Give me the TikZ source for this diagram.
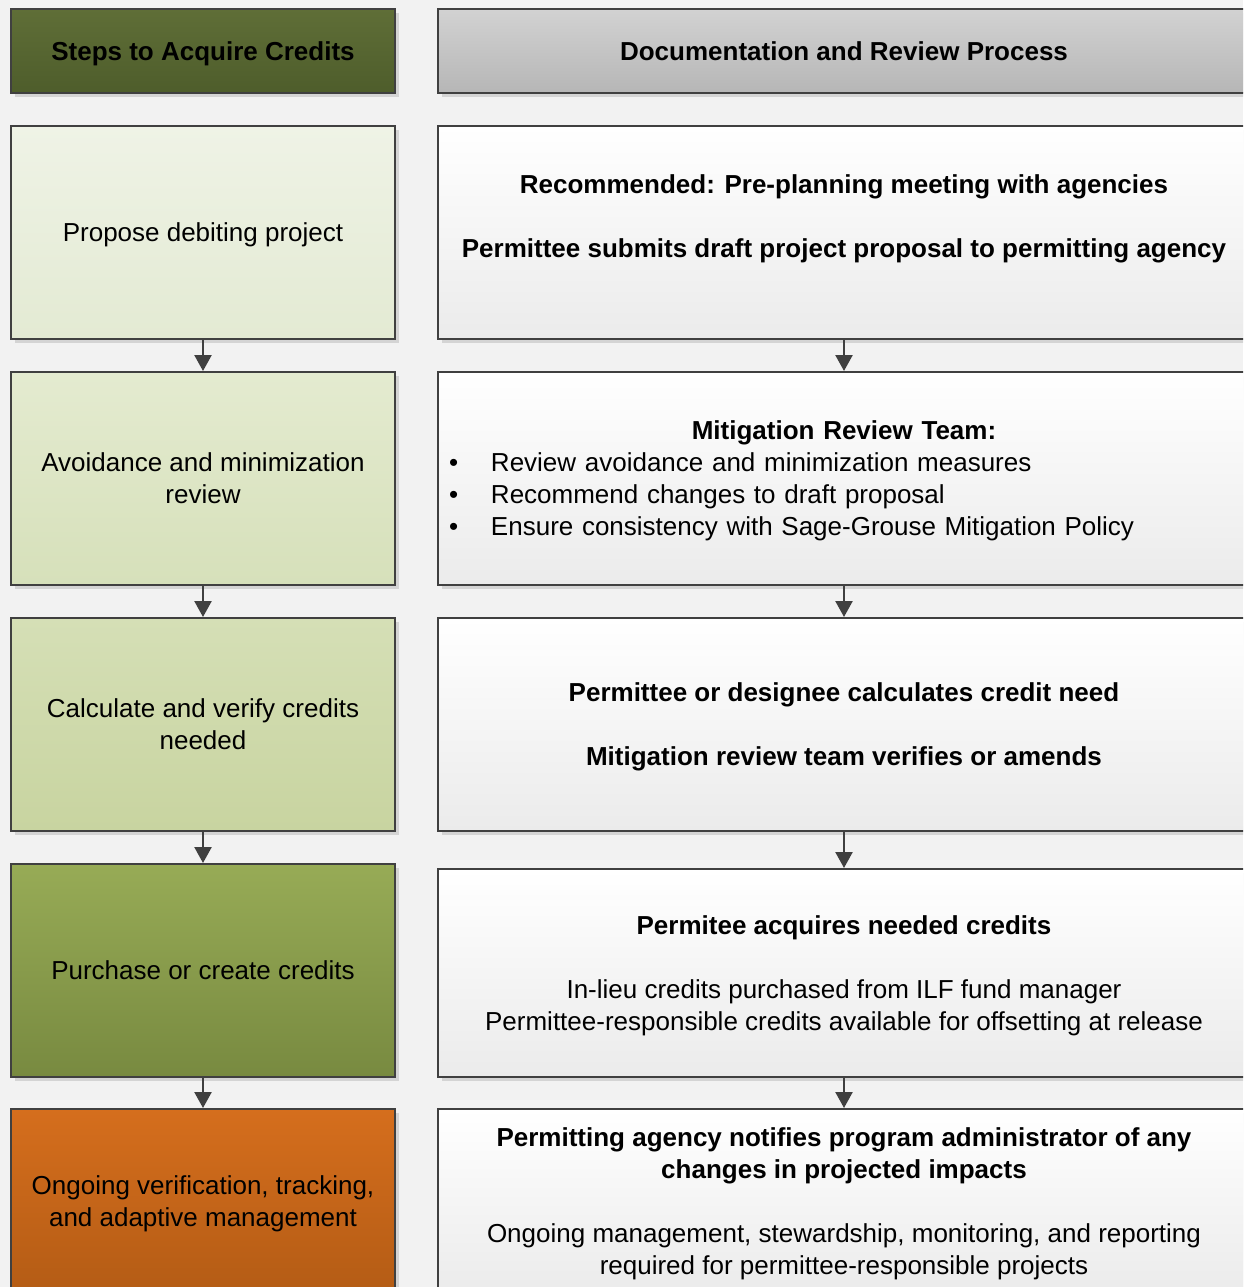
\documentclass[tikz,border=0pt]{standalone}
\usepackage{fontspec}
\setmainfont{Liberation Sans}
\usetikzlibrary{arrows.meta,shadows}
\definecolor{bg}{HTML}{F2F2F2}
\definecolor{bordergray}{HTML}{404040}
\definecolor{hdrLtop}{HTML}{5F6E37}
\definecolor{hdrLbot}{HTML}{4E5D2B}
\definecolor{hdrRtop}{HTML}{D2D2D2}
\definecolor{hdrRbot}{HTML}{B6B6B6}
\definecolor{aTop}{HTML}{EFF3E6}
\definecolor{aBot}{HTML}{E3EAD3}
\definecolor{bTop}{HTML}{E4EBD0}
\definecolor{bBot}{HTML}{D6E0BA}
\definecolor{cTop}{HTML}{D5DFB6}
\definecolor{cBot}{HTML}{C8D4A0}
\definecolor{dTop}{HTML}{97AB56}
\definecolor{dBot}{HTML}{788A40}
\definecolor{eTop}{HTML}{D56E1D}
\definecolor{eBot}{HTML}{B45C15}
\definecolor{rTop}{HTML}{FFFFFF}
\definecolor{rBot}{HTML}{EBEBEB}
\newcommand{\ls}{\rule[-6.7pt]{0pt}{32pt}}
\begin{document}
\begin{tikzpicture}[x=1pt,y=-1pt,
  box/.style={draw=bordergray, line width=2pt, rectangle, anchor=north west,
    align=center, inner sep=0pt, font=\fontsize{26}{32}\selectfont,
    drop shadow={shadow xshift=4pt, shadow yshift=-4pt, fill=black, opacity=0.12}},
  lbox/.style={box, minimum width=384pt},
  rbox/.style={box, minimum width=812pt, top color=rTop, bottom color=rBot},
  arr/.style={draw=bordergray, line width=2.4pt, -{Triangle[width=17pt,length=16pt]}}
]
\useasboundingbox (0,0) rectangle (1243,1287);
\fill[bg] (0,0) rectangle (1243,1287);
\clip (0,0) rectangle (1243,1287);

% headers
\node[lbox, minimum height=84pt, top color=hdrLtop, bottom color=hdrLbot] (hl) at (10,8)
  {\ls\bfseries Steps to Acquire Credits};
\node[rbox, minimum height=84pt, top color=hdrRtop, bottom color=hdrRbot] (hr) at (437,8)
  {\ls\bfseries Documentation and Review Process};

% left column
\node[lbox, minimum height=213pt, top color=aTop, bottom color=aBot] (l1) at (10,125)
  {\ls Propose debiting project};
\node[lbox, minimum height=213pt, top color=bTop, bottom color=bBot] (l2) at (10,371)
  {\ls Avoidance and minimization\\\ls review};
\node[lbox, minimum height=213pt, top color=cTop, bottom color=cBot] (l3) at (10,617)
  {\ls Calculate and verify credits\\\ls needed};
\node[lbox, minimum height=213pt, top color=dTop, bottom color=dBot] (l4) at (10,863)
  {\ls Purchase or create credits};
\node[lbox, minimum height=184pt, top color=eTop, bottom color=eBot] (l5) at (10,1108)
  {\ls Ongoing verification, tracking,\\\ls and adaptive management};

% right column
\node[rbox, minimum height=213pt] (r1) at (437,125)
  {\ls\bfseries Recommended: Pre-planning meeting with agencies\\\ls\\
   \ls\bfseries Permittee submits draft project proposal to permitting agency\\\ls};
\node[rbox, minimum height=213pt, align=left, text width=790pt, inner xsep=11pt] (r2) at (437,371)
  {{\centering\ls\bfseries Mitigation Review Team:\par}
   \ls\makebox[42pt][l]{\textbullet}Review avoidance and minimization measures\par
   \ls\makebox[42pt][l]{\textbullet}Recommend changes to draft proposal\par
   \ls\makebox[42pt][l]{\textbullet}Ensure consistency with Sage-Grouse Mitigation Policy};
\node[rbox, minimum height=213pt] (r3) at (437,617)
  {\ls\bfseries Permittee or designee calculates credit need\\\ls\\
   \ls\bfseries Mitigation review team verifies or amends};
\node[rbox, minimum height=208pt] (r4) at (437,868)
  {\ls\bfseries Permitee acquires needed credits\\\ls\\
   \ls In-lieu credits purchased from ILF fund manager\\
   \ls Permittee-responsible credits available for offsetting at release};
\node[rbox, minimum height=184pt] (r5) at (437,1108)
  {\ls\bfseries Permitting agency notifies program administrator of any\\
   \ls\bfseries changes in projected impacts\\\ls\\
   \ls Ongoing management, stewardship, monitoring, and reporting\\
   \ls required for permittee-responsible projects};

% connectors
\draw[arr] (l1.south) -- (l2.north);
\draw[arr] (l2.south) -- (l3.north);
\draw[arr] (l3.south) -- (l4.north);
\draw[arr] (l4.south) -- (l5.north);
\draw[arr] (r1.south) -- (r2.north);
\draw[arr] (r2.south) -- (r3.north);
\draw[arr] (r3.south) -- (r4.north);
\draw[arr] (r4.south) -- (r5.north);
\end{tikzpicture}
\end{document}
